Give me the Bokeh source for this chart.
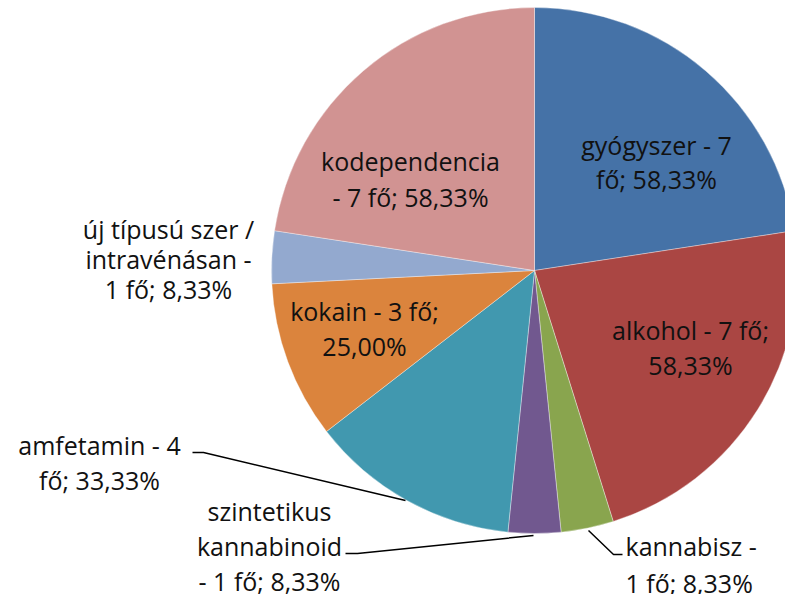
import math
import numpy as np
from bokeh.plotting import figure
from bokeh.models import Range1d, ColumnDataSource
from bokeh.core.properties import value
from bokeh.embed import file_html
from bokeh.resources import INLINE

# ---- data ----
categories = ["gyógyszer", "alkohol", "kannabisz", "szintetikus kannabinoid",
              "amfetamin", "kokain", "új típusú szer / intravénásan", "kodependencia"]
counts = [7, 7, 1, 1, 4, 3, 1, 7]
percents = ["58,33%", "58,33%", "8,33%", "8,33%", "33,33%", "25,00%", "8,33%", "58,33%"]
colors = ["#4572A7", "#AA4643", "#89A54E", "#71588F", "#4198AF", "#DB843D", "#93A9CF", "#D19392"]

# label text split into lines as displayed
label_lines = [
    ["gyógyszer - 7", "fő; 58,33%"],
    ["alkohol - 7 fő;", "58,33%"],
    ["kannabisz -", "1 fő; 8,33%"],
    ["szintetikus", "kannabinoid", "- 1 fő; 8,33%"],
    ["amfetamin - 4", "fő; 33,33%"],
    ["kokain - 3 fő;", "25,00%"],
    ["új típusú szer /", "intravénásan -", "1 fő; 8,33%"],
    ["kodependencia", "- 7 fő; 58,33%"],
]

# ---- layout (screen pixel coordinates; y measured downward) ----
CX, CY, R = 534, 270, 263
TEXT_SHIFT = 8  # svg baseline offset correction
label_x = [656, 690, 625, 269, 99, 364, 168, 410]
label_align = ["center", "center", "left", "center", "center", "center", "center", "center"]
label_base = [[152, 186], [337, 372], [553, 590], [518, 553, 588], [452, 487],
              [318, 353], [236, 266, 296], [168, 204]]
leaders = [
    None, None,
    [(588, 530), (613, 554), (622, 554)],
    [(533, 535), (357, 553), (345, 553)],
    [(405, 500), (203, 452), (192, 452)],
    None, None, None,
]

total = float(sum(counts))
cum = np.concatenate([[0], np.cumsum(counts)])
start = [math.pi / 2 - 2 * math.pi * cum[i] / total for i in range(len(counts))]
end = [math.pi / 2 - 2 * math.pi * cum[i + 1] / total for i in range(len(counts))]

src = ColumnDataSource(dict(cat=categories, start=start, end=end, color=colors))

W, H = 785, 594
p = figure(width=W, height=H, output_backend="svg", toolbar_location=None,
           x_range=Range1d(0, W), y_range=Range1d(-H, 0),
           min_border=0, min_border_left=0, min_border_right=0,
           min_border_top=0, min_border_bottom=0)
p.axis.visible = False
p.grid.visible = False
p.outline_line_color = None
p.background_fill_color = "white"
p.border_fill_color = "white"

p.wedge(x=CX, y=-CY, radius=R, start_angle="start", end_angle="end",
        direction="clock", fill_color="color", line_color="white",
        line_width=0.6, line_alpha=0.6, source=src)

# leader lines
xs, ys = [], []
for ld in leaders:
    if ld:
        xs.append([pt[0] for pt in ld])
        ys.append([-pt[1] for pt in ld])
p.multi_line(xs=xs, ys=ys, line_color="black", line_width=1.5)

# labels
tx, ty, tt, ta = [], [], [], []
for i, lines in enumerate(label_lines):
    for j, line in enumerate(lines):
        tx.append(label_x[i])
        ty.append(-(label_base[i][j] - TEXT_SHIFT))
        tt.append(line)
        ta.append(label_align[i])
tsrc = ColumnDataSource(dict(x=tx, y=ty, text=tt, align=ta))
p.text(x="x", y="y", text="text", text_align="align", text_baseline="alphabetic",
       text_font=value("Open Sans"), text_font_size="25px", text_color="#111111", source=tsrc)

open("out.html", "w").write(file_html(p, INLINE))
